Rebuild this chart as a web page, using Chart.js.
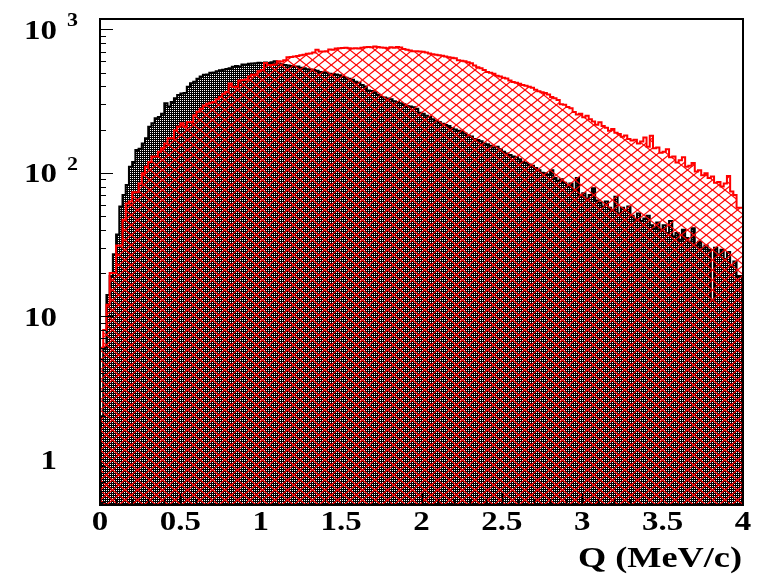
<!DOCTYPE html>
<html>
<head>
<meta charset="utf-8">
<script src="https://cdn.jsdelivr.net/npm/chart.js@4/dist/chart.umd.min.js"></script>
<style>
html,body{margin:0;padding:0;background:#fff;}
canvas{display:block;}
</style>
</head>
<body>
<canvas id="c" width="766" height="578"></canvas>
<script>
// ---- data ----
const BIN_WIDTH = 0.02;   // Q bin width (MeV/c), 200 bins from 0 to 4
const blackCounts = [
  1, 2, 6, 14, 19, 27, 37, 58, 70, 82,
  110, 119, 144, 147, 160, 174, 209, 221, 240, 245,
  258, 305, 290, 312, 331, 349, 357, 360, 398, 421,
  431, 452, 470, 482, 485, 498, 500, 510, 518, 522,
  530, 535, 548, 555, 552, 568, 570, 575, 578, 580,
  585, 582, 588, 584, 590, 600, 578, 572, 565, 560,
  555, 552, 550, 540, 535, 528, 525, 520, 515, 505,
  503, 498, 490, 488, 485, 478, 466, 460, 452, 445,
  432, 425, 410, 400, 375, 372, 365, 350, 338, 335,
  330, 325, 315, 312, 305, 300, 292, 290, 286, 280,
  262, 258, 250, 245, 236, 230, 226, 220, 215, 212,
  205, 200, 196, 193, 188, 182, 179, 172, 169, 166,
  160, 158, 154, 150, 152, 146, 140, 136, 133, 130,
  128, 124, 119, 117, 114, 112, 108, 104, 100, 99,
  97, 104, 92, 88, 90, 85, 80, 84, 76, 92,
  69, 72, 66, 70, 78, 64, 62, 58, 63, 57,
  55, 68, 52, 57, 54, 58, 50, 47, 52, 46,
  48, 50, 43, 41, 45, 40, 43, 38, 46, 36,
  38, 34, 40, 35, 33, 41, 31, 33, 30, 31,
  29, 13, 30, 27, 29, 25, 28, 22, 24, 19
];
const redCounts = [
  1, 6, 8, 12, 20, 20, 31, 31, 47, 61,
  63, 73, 73, 84, 99, 110, 119, 130, 130, 140,
  148, 160, 174, 174, 198, 209, 221, 209, 226, 226,
  252, 266, 280, 295, 303, 308, 312, 325, 338, 355,
  366, 420, 398, 398, 440, 444, 448, 470, 482, 485,
  510, 520, 582, 565, 565, 570, 600, 598, 610, 640,
  643, 648, 652, 660, 665, 675, 680, 690, 720, 700,
  700, 705, 725, 720, 735, 740, 742, 745, 738, 735,
  740, 736, 745, 750, 755, 752, 760, 755, 748, 745,
  738, 752, 745, 755, 748, 730, 720, 712, 705, 705,
  700, 698, 690, 680, 672, 665, 660, 655, 648, 640,
  635, 630, 610, 605, 600, 590, 580, 560, 545, 535,
  520, 505, 498, 490, 475, 470, 460, 455, 440, 430,
  425, 418, 410, 405, 398, 392, 380, 370, 365, 360,
  352, 338, 331, 322, 300, 298, 288, 282, 265, 255,
  258, 244, 250, 236, 228, 216, 225, 212, 206, 196,
  202, 190, 186, 178, 182, 172, 168, 170, 160, 165,
  176, 152, 181, 148, 150, 138, 140, 146, 128, 130,
  118, 122, 128, 110, 112, 117, 102, 104, 96, 99,
  92, 94, 85, 86, 80, 84, 95, 74, 70, 57
];
const xTickValues = [0, 0.5, 1, 1.5, 2, 2.5, 3, 3.5, 4];
const xTickLabels = ['0', '0.5', '1', '1.5', '2', '2.5', '3', '3.5', '4'];
const yTickValues = [1, 10, 100, 1000];
const yTickBase   = ['1', '10', '10', '10'];
const yTickExp    = ['', '', '2', '3'];
const xTitle = 'Q (MeV/c)';

// ---- helpers ----
function toSteps(counts) {
  const pts = counts.map((c, i) => ({x: i * BIN_WIDTH, y: c}));
  pts.push({x: counts.length * BIN_WIDTH, y: counts[counts.length - 1]});
  return pts;
}
function makeDotPattern() {
  const c = document.createElement('canvas');
  c.width = 2; c.height = 2;
  const g = c.getContext('2d');
  g.fillStyle = '#000'; g.fillRect(0, 0, 2, 2);
  g.fillStyle = '#fff'; g.fillRect(0, 0, 1, 1);
  return g.createPattern(c, 'repeat');
}
function makeHatchPattern() {
  const W = 25, H = 20;
  const c = document.createElement('canvas');
  c.width = W; c.height = H;
  const g = c.getContext('2d');
  g.strokeStyle = '#ff0000';
  g.lineWidth = 1.2;
  const step = W / 2;
  for (let k = -3; k <= 3; k++) {
    const off = k * step;
    g.beginPath(); g.moveTo(off, 0); g.lineTo(off + W, H); g.stroke();
    g.beginPath(); g.moveTo(off + W, 0); g.lineTo(off, H); g.stroke();
  }
  return g.createPattern(c, 'repeat');
}

const FAMILY = '"Liberation Serif", "Times New Roman", Times, serif';
const FONT = 'bold 27px ' + FAMILY;
const SUPFONT = 'bold 18px ' + FAMILY;
const TITLEFONT = 'bold 29px ' + FAMILY;
const SX = 1.22;

function stretchedText(ctx, text, x, y, align, font, sx) {
  const s = sx || SX;
  ctx.save();
  ctx.font = font;
  ctx.textBaseline = 'alphabetic';
  const w = ctx.measureText(text).width * s;
  let left = x;
  if (align === 'center') left = x - w / 2;
  else if (align === 'right') left = x - w;
  ctx.translate(left, y);
  ctx.scale(s, 1);
  ctx.textAlign = 'left';
  ctx.fillText(text, 0, 0);
  ctx.restore();
}

const axisPlugin = {
  id: 'rootAxes',
  afterDatasetsDraw(chart) {
    const ctx = chart.ctx;
    const a = chart.chartArea;
    const xs = chart.scales.x, ys = chart.scales.y;
    ctx.save();
    ctx.strokeStyle = '#000';
    ctx.fillStyle = '#000';
    ctx.lineWidth = 1;
    for (let d = -1; d <= 3; d++) {
      for (let k = 1; k <= 9; k++) {
        const v = k * Math.pow(10, d);
        if (v < ys.min || v > ys.max) continue;
        const py = Math.round(ys.getPixelForValue(v)) + 0.5;
        const len = (k === 1) ? 13 : 6;
        ctx.beginPath(); ctx.moveTo(a.left, py); ctx.lineTo(a.left + len, py); ctx.stroke();
      }
    }
    for (let i = 0; i <= 40; i++) {
      const v = i * 0.1;
      const px = Math.round(xs.getPixelForValue(v)) + 0.5;
      const len = (i % 5 === 0) ? 12 : 6;
      ctx.beginPath(); ctx.moveTo(px, a.bottom); ctx.lineTo(px, a.bottom - len); ctx.stroke();
    }
    ctx.lineWidth = 2;
    ctx.strokeRect(a.left, a.top, a.right - a.left, a.bottom - a.top);
    xTickValues.forEach((v, i) => {
      stretchedText(ctx, xTickLabels[i], xs.getPixelForValue(v), a.bottom + 25, 'center', FONT);
    });
    yTickValues.forEach((v, i) => {
      const py = ys.getPixelForValue(v);
      stretchedText(ctx, yTickBase[i], 57, py + 9.5, 'right', FONT);
      if (yTickExp[i]) stretchedText(ctx, yTickExp[i], 67, py - 3, 'left', SUPFONT);
    });
    stretchedText(ctx, xTitle, 742, 567, 'right', TITLEFONT, 1.25);
    ctx.restore();
  }
};

function build() {
  new Chart(document.getElementById('c'), {
    type: 'line',
    data: {
      datasets: [
        {
          label: 'red',
          data: toSteps(redCounts),
          stepped: 'after',
          borderColor: '#ff0000',
          borderWidth: 2,
          backgroundColor: makeHatchPattern(),
          fill: 'start',
          pointRadius: 0,
          order: 1
        },
        {
          label: 'black',
          data: toSteps(blackCounts),
          stepped: 'after',
          borderColor: '#000000',
          borderWidth: 2,
          backgroundColor: makeDotPattern(),
          fill: 'start',
          pointRadius: 0,
          order: 2
        }
      ]
    },
    options: {
      responsive: false,
      animation: false,
      events: [],
      layout: {padding: {left: 100, right: 23, top: 19, bottom: 73}},
      plugins: {legend: {display: false}, tooltip: {enabled: false}},
      scales: {
        x: {type: 'linear', min: 0, max: 4, display: false},
        y: {type: 'logarithmic', min: 0.48, max: 1182, display: false}
      }
    },
    plugins: [axisPlugin]
  });
}
if (document.fonts && document.fonts.load) {
  Promise.all([document.fonts.load(FONT, '0123456789QMeV'), document.fonts.load(SUPFONT, '23')])
    .then(build, build);
} else {
  build();
}
</script>
</body>
</html>
